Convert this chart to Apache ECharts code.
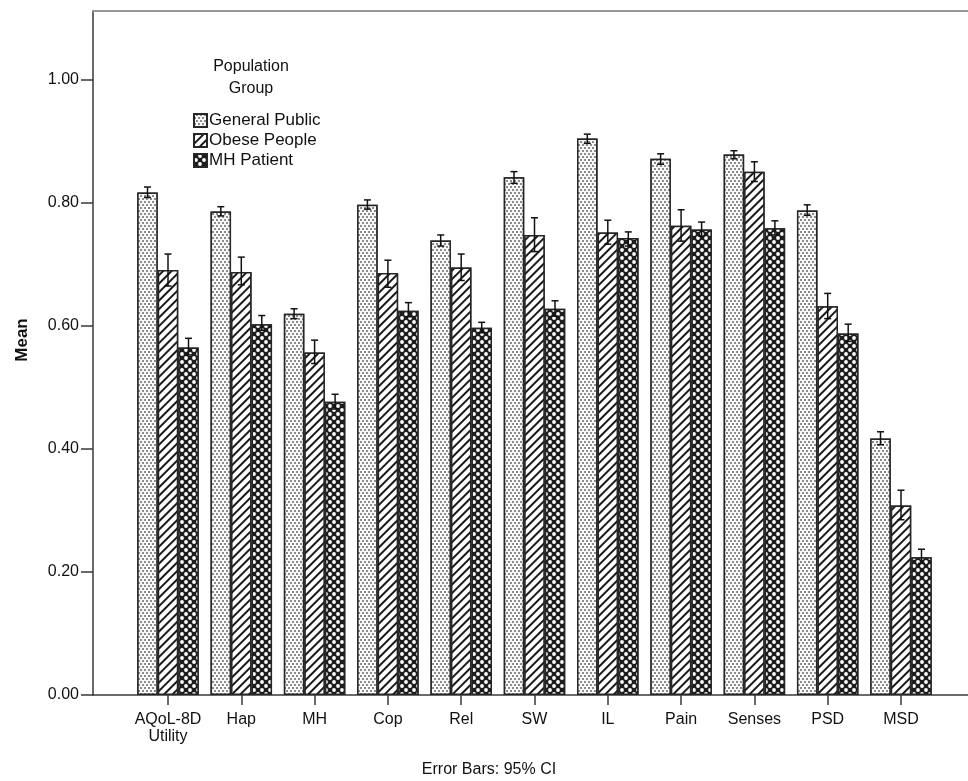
<!DOCTYPE html>
<html>
<head>
<meta charset="utf-8">
<script src="https://cdn.jsdelivr.net/npm/echarts@6/dist/echarts.min.js"></script>
<style>html,body{margin:0;padding:0;background:#fff}#c{width:968px;height:781px}</style>
</head>
<body>
<div id="c"></div>
<script>
const categories = ['AQoL-8D\nUtility','Hap','MH','Cop','Rel','SW','IL','Pain','Senses','PSD','MSD'];
const groups = ['General Public','Obese People','MH Patient'];
const gpMean = [0.817,0.786,0.620,0.797,0.739,0.842,0.905,0.872,0.879,0.788,0.417];
const gpLo   = [0.809,0.779,0.612,0.790,0.730,0.832,0.897,0.863,0.872,0.780,0.407];
const gpHi   = [0.826,0.794,0.628,0.805,0.748,0.851,0.912,0.880,0.885,0.797,0.428];
const obMean = [0.691,0.688,0.557,0.686,0.695,0.748,0.752,0.763,0.851,0.632,0.308];
const obLo   = [0.665,0.667,0.539,0.663,0.674,0.721,0.733,0.738,0.835,0.612,0.285];
const obHi   = [0.717,0.712,0.577,0.707,0.717,0.776,0.772,0.789,0.867,0.653,0.333];
const mhMean = [0.565,0.603,0.477,0.625,0.597,0.628,0.743,0.757,0.759,0.588,0.224];
const mhLo   = [0.553,0.593,0.465,0.615,0.589,0.616,0.730,0.746,0.748,0.575,0.214];
const mhHi   = [0.580,0.617,0.489,0.638,0.606,0.641,0.753,0.769,0.771,0.603,0.237];
const yTicks = [0, 0.2, 0.4, 0.6, 0.8, 1.0];

const FONT = 'Liberation Sans, Arial, sans-serif';
const BAR_W = 20.5;
const means = [gpMean, obMean, mhMean];
const los = [gpLo, obLo, mhLo];
const his = [gpHi, obHi, mhHi];
const decals = [
  {symbol:'rect', symbolSize:1, color:'#8c8c8c', backgroundColor:'#f8f8f8', dashArrayX:[[2,2],[0,2,2,0]], dashArrayY:[2,1]},
  {symbol:'rect', symbolSize:1, color:'#1a1a1a', backgroundColor:'#fff', dashArrayX:[1,0], dashArrayY:[1.3,3.7], rotation:-Math.PI/4},
  {symbol:'circle', symbolSize:0.95, color:'#fff', backgroundColor:'#1c1c1c', dashArrayX:[[3.5,3.5],[0,3.5,3.5,0]], dashArrayY:[3.5,0]}
];

const barSeries = groups.map((g, k) => ({
  name: g, type: 'bar', xAxisIndex: 0, yAxisIndex: 0,
  barWidth: BAR_W, barGap: '0%',
  data: means[k].map((v, i) => [i, v]),
  itemStyle: {color: '#fff', borderColor: '#262626', borderWidth: 1.5, decal: decals[k]},
  emphasis: {disabled: true},
  z: 2
}));

const errData = [];
groups.forEach((g, k) => {
  categories.forEach((c, i) => errData.push([i, los[k][i], his[k][i], k]));
});

const errSeries = {
  name: 'err', type: 'custom', xAxisIndex: 0, yAxisIndex: 0, z: 5,
  encode: {x: 0, y: [1, 2]},
  data: errData,
  renderItem: function (params, api) {
    const x = api.value(0), lo = api.value(1), hi = api.value(2), k = api.value(3);
    const pHi = api.coord([x, hi]);
    const pLo = api.coord([x, lo]);
    const cx = pHi[0] + (k - 1) * BAR_W;
    const cap = 3.5;
    const st = {stroke: '#111', lineWidth: 1.5};
    return {type: 'group', children: [
      {type: 'line', shape: {x1: cx, y1: pHi[1], x2: cx, y2: pLo[1]}, style: st},
      {type: 'line', shape: {x1: cx - cap, y1: pHi[1], x2: cx + cap, y2: pHi[1]}, style: st},
      {type: 'line', shape: {x1: cx - cap, y1: pLo[1], x2: cx + cap, y2: pLo[1]}, style: st}
    ]};
  }
};

const tickIdx = categories.map((c, i) => i);
const chart = echarts.init(document.getElementById('c'), null, {renderer: 'canvas'});
chart.setOption({
  animation: false,
  backgroundColor: '#fff',
  textStyle: {fontFamily: FONT},
  title: [
    {text: 'Population\nGroup', left: 246, top: 51, textAlign: 'center',
     textStyle: {fontFamily: FONT, fontSize: 16, fontWeight: 'normal', color: '#111', lineHeight: 22, align: 'center'}},
    {text: 'Error Bars: 95% CI', left: 484, top: 757, textAlign: 'center',
     textStyle: {fontFamily: FONT, fontSize: 16, fontWeight: 'normal', color: '#111'}}
  ],
  graphic: [
    {type: 'text', x: 22, y: 340, rotation: Math.PI / 2,
     style: {text: 'Mean', fontFamily: FONT, fontSize: 17, fontWeight: 'bold', fill: '#111', align: 'center', verticalAlign: 'middle'}}
  ],
  legend: {
    data: groups, orient: 'vertical', left: 193, top: 112, padding: 0,
    itemWidth: 13, itemHeight: 13, itemGap: 3, icon: 'rect',
    textStyle: {fontFamily: FONT, fontSize: 17, color: '#111', padding: [0,0,0,-3]},
    selectedMode: false
  },
  grid: {left: 93, right: 0, top: 11, bottom: 86, containLabel: false},
  xAxis: [
    {type: 'value', min: -75/73.3, max: 800/73.3, splitLine: {show: false},
     axisLine: {show: true, onZero: false, lineStyle: {color: '#3a3a3a', width: 1.5}},
     axisTick: {show: true, length: 10, inside: false, customValues: tickIdx, lineStyle: {color: '#3a3a3a', width: 1.5}},
     axisLabel: {customValues: tickIdx, margin: 16, fontFamily: FONT, fontSize: 16, color: '#111', lineHeight: 17,
       formatter: v => categories[Math.round(v)] || ''}},
    {type: 'value', position: 'top', min: -75/73.3, max: 800/73.3, splitLine: {show: false},
     axisLine: {show: true, onZero: false, lineStyle: {color: '#999', width: 2}}, axisTick: {show: false}, axisLabel: {show: false}}
  ],
  yAxis: {
    type: 'value', min: 0, max: 684/615, splitLine: {show: false},
    axisLine: {show: true, onZero: false, lineStyle: {color: '#3a3a3a', width: 1.5}},
    axisTick: {show: true, length: 12, customValues: yTicks, lineStyle: {color: '#3a3a3a', width: 1.5}},
    axisLabel: {margin: 14, customValues: yTicks, fontFamily: FONT, fontSize: 16, color: '#111',
      formatter: v => v.toFixed(2)}
  },
  series: [...barSeries, errSeries]
});
</script>
</body>
</html>
